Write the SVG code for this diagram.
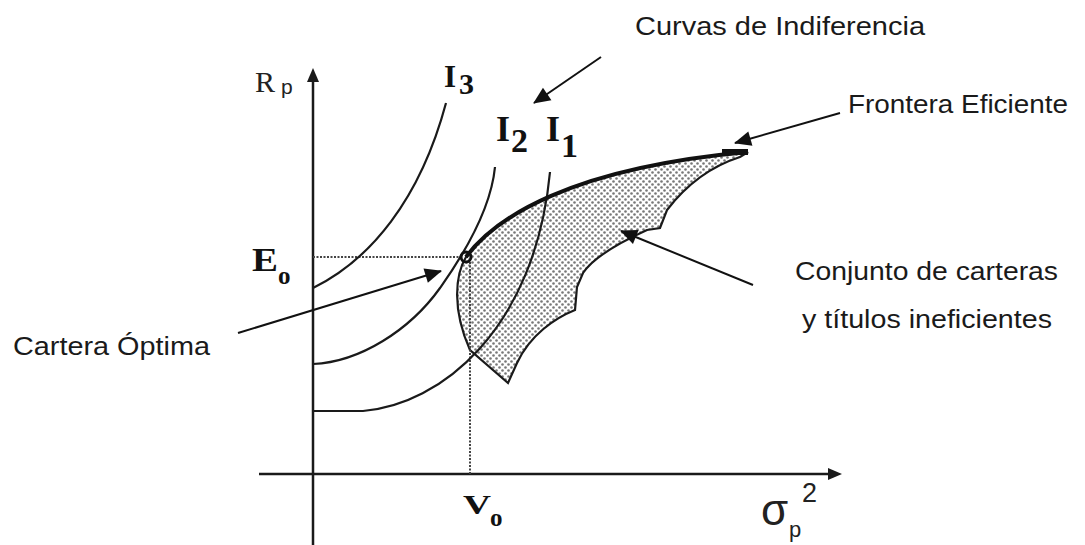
<svg xmlns="http://www.w3.org/2000/svg" width="1085" height="545" viewBox="0 0 1085 545">
<style>
.ax{stroke:#1a1a1a;stroke-width:2.5;fill:none}
.crv{stroke:#1a1a1a;stroke-width:2.2;fill:none}
.dot{stroke:#444;stroke-width:2;stroke-dasharray:2 1.5;fill:none}
.arr{stroke:#111;stroke-width:2;fill:none;marker-end:url(#ah)}
.lbl{font-family:"Liberation Sans",Arial,sans-serif;font-size:26px;fill:#1a1a1a}
.ser{font-family:"Liberation Serif","Times New Roman",serif;font-weight:bold;fill:#111}
.sans{font-family:"Liberation Sans",Arial,sans-serif;fill:#222}
</style>
<defs>
<marker id="ah" markerWidth="8" markerHeight="8" refX="7" refY="4" orient="auto" markerUnits="userSpaceOnUse" viewBox="0 0 8 8" style="overflow:visible">
<path d="M-9,-3.5 L8,4 L-9,11.5 Z" fill="#111"/>
</marker>
<pattern id="dots" width="6" height="6" patternUnits="userSpaceOnUse">
<rect width="6" height="6" fill="#fff"/>
<circle cx="1.5" cy="1.5" r="1.3" fill="#777"/>
<circle cx="4.5" cy="4.5" r="1.3" fill="#777"/>
</pattern>
</defs>
<rect width="1085" height="545" fill="#fff"/>

<g id="axes">
<line class="ax" x1="313" y1="545" x2="313" y2="78"/>
<path d="M313,68 L307,82 L319,82 Z" fill="#1a1a1a"/>
<line class="ax" x1="259" y1="474" x2="830" y2="474"/>
<path d="M842,474 L828,468 L828,480 Z" fill="#1a1a1a"/>
</g>

<g id="region">
<path d="M466,257 C495,218 570,168 748,152 L740,157 C715,165 690,180 667,210 L660,228 L647,230 C625,240 595,255 583,273 L577,287 L575,310 C555,318 530,335 517,363 L508,383 L470,350 C452,310 455,275 466,257 Z" fill="url(#dots)" stroke="#1a1a1a" stroke-width="2.2"/>
</g>

<g id="guides">
<line class="dot" x1="313" y1="257" x2="461" y2="257"/>
<line class="dot" x1="470" y1="262" x2="470" y2="474"/>
</g>

<g id="indifference-curves">
<path id="I3-curve" class="crv" d="M313,288 C370,260 420,200 446,103"/>
<path id="I2-curve" class="crv" d="M313,364 C360,362 410,330 440,288 C452,271 490,218 495,167"/>
<path id="I1-curve" class="crv" d="M313,411 L363,411 C440,405 535,330 550,172"/>
</g>

<g id="frontier">
<path d="M466,257 C495,218 570,168 748,152" stroke="#111" stroke-width="4" fill="none"/>
<line x1="722" y1="152" x2="748" y2="152" stroke="#111" stroke-width="6"/>
</g>

<g id="optimal-point">
<circle cx="466" cy="257" r="5" fill="none" stroke="#111" stroke-width="3"/>
</g>

<g id="axis-labels">
<text x="255" y="92" style="font-family:'Liberation Serif','Times New Roman',serif;font-size:30px;fill:#222">R</text>
<text class="sans" x="281" y="94" font-size="21">p</text>
<text class="sans" x="761" y="525" font-size="44">σ</text>
<text class="sans" x="802" y="502" font-size="27">2</text>
<text class="sans" x="789" y="537" font-size="22">p</text>
</g>

<g id="label-Eo">
<text class="ser" x="252" y="271" font-size="33" textLength="26" lengthAdjust="spacingAndGlyphs">E</text>
<text class="ser" x="278" y="284" font-size="25">o</text>
</g>
<g id="label-Vo">
<text class="ser" x="463" y="514" font-size="28" textLength="28" lengthAdjust="spacingAndGlyphs">V</text>
<text class="ser" x="490" y="526" font-size="25">o</text>
</g>
<g id="label-I3">
<text class="ser" x="444" y="87" font-size="31">I</text>
<text class="ser" x="459" y="94" font-size="30">3</text>
</g>
<g id="label-I2">
<text class="ser" x="496" y="141" font-size="36">I</text>
<text class="ser" x="511" y="152" font-size="34">2</text>
</g>
<g id="label-I1">
<text class="ser" x="546" y="141" font-size="36">I</text>
<text class="ser" x="561" y="157" font-size="34">1</text>
</g>

<g id="node-curvas">
<text class="lbl" x="635" y="35" textLength="290" lengthAdjust="spacingAndGlyphs">Curvas de Indiferencia</text>
</g>
<g id="node-frontera">
<text class="lbl" x="848" y="113" textLength="220" lengthAdjust="spacingAndGlyphs">Frontera Eficiente</text>
</g>
<g id="node-conjunto">
<text class="lbl" x="795" y="280" textLength="263" lengthAdjust="spacingAndGlyphs">Conjunto de carteras</text>
<text class="lbl" x="802" y="328" textLength="250" lengthAdjust="spacingAndGlyphs">y títulos ineficientes</text>
</g>
<g id="node-cartera">
<text class="lbl" x="13" y="355" textLength="197" lengthAdjust="spacingAndGlyphs">Cartera Óptima</text>
</g>

<g id="connectors">
<line class="arr" x1="601" y1="57" x2="534" y2="103"/>
<line class="arr" x1="840" y1="113" x2="735" y2="143"/>
<line class="arr" x1="753" y1="285" x2="621" y2="231"/>
<line class="arr" x1="238" y1="333" x2="441" y2="271"/>
</g>
</svg>
